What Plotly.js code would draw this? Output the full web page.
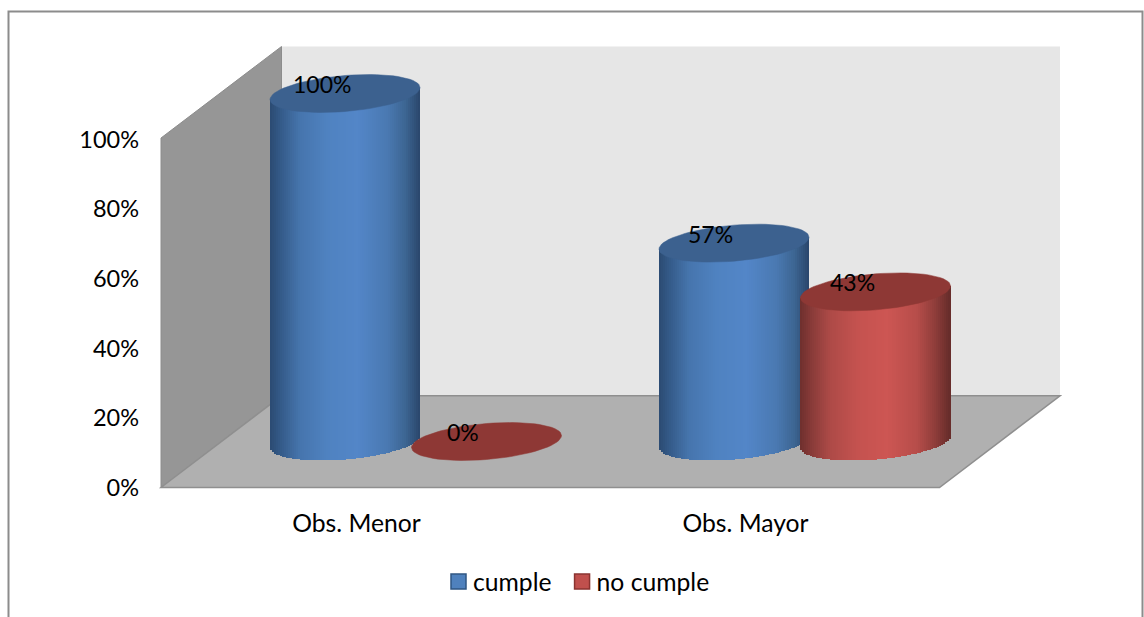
<!DOCTYPE html>
<html><head><meta charset="utf-8">
<script src="https://cdn.plot.ly/plotly-3.0.1.min.js"></script>
<style>html,body{margin:0;padding:0;background:#fff;overflow:hidden}</style>
</head><body><div id="chart" style="width:1144px;height:617px"></div>
<script>
const categories = ["Obs. Menor", "Obs. Mayor"];
const cumple = [100, 57];
const noCumple = [0, 43];
const yTicks = [0, 20, 40, 60, 80, 100];
const yTickLabels = ["0%", "20%", "40%", "60%", "80%", "100%"];

// pixel scale helpers of the pseudo-3D projection
const W = 1144, H = 617;
const PL = 140, PR = 1062, PT = 40, PB = 494;
const Y0 = 487.5;
const pxPerCat = 389, pxPerPct = 3.48;
const x0px = 356.5;
const xRange = [(PL - x0px) / pxPerCat, (PR - x0px) / pxPerCat];
const yRange = [(Y0 - PB) / pxPerPct, (Y0 - PT) / pxPerPct];
const dx = v => v / pxPerCat, dy = v => v / pxPerPct;

const depthX = dx(120.5), depthY = dy(91.7);
const wallTop = dy(Y0 - 46.5), wallFrontTop = dy(Y0 - 138);
const xL = (161 - x0px) / pxPerCat, xF = (939.5 - x0px) / pxPerCat;
const floorShift = dy(46);           // cylinder bases sit this far above the axis
const seriesOffset = [dx(-11.5), dx(130)];   // from category tick to cylinder centre
const rA = 75, rB = 18, rK = 6;      // ellipse half width, half height, tilt (px)

const blueStops = [[0,'#2b4a72'],[0.07,'#345a88'],[0.2,'#4675ad'],[0.38,'#4f82c0'],[0.58,'#5386c8'],[0.78,'#4a79b2'],[0.9,'#3d6693'],[1,'#2a466b']];
const redStops = [[0,'#6e2f2d'],[0.07,'#863a38'],[0.2,'#ad4a47'],[0.38,'#c4524f'],[0.58,'#cd5653'],[0.78,'#b64d4a'],[0.9,'#8f3d3a'],[1,'#652c2a']];
const topColors = ['#3c618f', '#8e3835'];
const swatch = ['#4f81bd', '#c0504d'], swatchEdge = ['#2f5582', '#8a3330'];

function hex(c){return [1,3,5].map(i=>parseInt(c.substr(i,2),16));}
function ramp(stops,t){
  for(let i=1;i<stops.length;i++){
    if(t<=stops[i][0]){
      const f=(t-stops[i-1][0])/(stops[i][0]-stops[i-1][0]);
      const a=hex(stops[i-1][1]),b=hex(stops[i][1]);
      return 'rgb('+a.map((v,k)=>Math.round(v+(b[k]-v)*f)).join(',')+')';
    }
  }
  return stops[stops.length-1][1];
}

const N = 75, slice = 2 * rA / N;
const traces = [];
function cylinder(values, sIdx, stops, name){
  const xs=[],bases=[],hs=[],cols=[],ws=[];
  values.forEach((v,c)=>{
    if(v<=0) return;
    const cx=c+seriesOffset[sIdx];
    for(let i=0;i<N;i++){
      const u=(i+0.5)/N*2-1;
      const low=rB*Math.sqrt(1-u*u);
      const mid=rK*u;
      xs.push(cx+dx(u*rA));
      const b=floorShift+dy(mid-low);
      bases.push(b);
      hs.push(v+dy(low));
      ws.push(dx(slice+0.6));
      cols.push(ramp(stops,(u+1)/2));
    }
  });
  traces.push({type:'bar',x:xs,y:hs,base:bases,width:ws,orientation:'v',showlegend:false,hoverinfo:'skip',
    marker:{color:cols,line:{width:0}},name:name});
}
function caps(values, sIdx){
  values.forEach((v,c)=>{
    const cx=c+seriesOffset[sIdx], xs=[],ys=[];
    for(let i=0;i<=72;i++){
      const t=i/72*2*Math.PI;
      xs.push(cx+dx(rA*Math.cos(t)));
      ys.push(floorShift+v+dy(rB*Math.sin(t)+rK*Math.cos(t)));
    }
    traces.push({type:'scatter',mode:'lines',x:xs,y:ys,fill:'toself',fillcolor:topColors[sIdx],
      line:{color:topColors[sIdx],width:0.5},showlegend:false,hoverinfo:'skip'});
  });
}
cylinder(cumple,0,blueStops,'cumple');
cylinder(noCumple,1,redStops,'no cumple');
caps(cumple,0);
caps(noCumple,1);
['cumple','no cumple'].forEach((n,i)=>traces.push({type:'bar',x:[null],y:[null],name:n,showlegend:true,
  marker:{color:swatch[i],line:{color:swatchEdge[i],width:1.5}}}));

function poly(pts,fill,line,lw){
  return {type:'path',xref:'x',yref:'y',layer:'below',fillcolor:fill,line:{color:line||fill,width:lw||0},
    path:'M'+pts.map(p=>p[0]+','+p[1]).join(' L')+' Z'};
}
const xB = xL + depthX, xBR = xF + depthX;
const shapes = [
  poly([[xB,depthY],[xBR,depthY],[xBR,wallTop],[xB,wallTop]],'#e6e6e6'),
  poly([[xL,0],[xB,depthY],[xB,wallTop],[xL,wallFrontTop]],'#969696','#8c8c8c',1),
  poly([[xL,0],[xB,depthY],[xBR,depthY],[xF,0]],'#b0b0b0','#8f8f8f',1.5),
  {type:'rect',xref:'paper',yref:'paper',layer:'below',line:{color:'#8c8c8c',width:2},fillcolor:'rgba(0,0,0,0)',
   x0:(8.5-PL)/(PR-PL),x1:(1142.5-PL)/(PR-PL),y0:-0.2,y1:(H-11.5)/(H-PT)}
];

const numFont={family:'Lato, "Open Sans", sans-serif',size:23.5,color:'#000'};
const lblFont={family:'Lato, "Open Sans", sans-serif',size:23,color:'#000'};
const txtFont={family:'Lato, "Open Sans", sans-serif',size:24.7,color:'#000'};
const annotations=[];
[[cumple,0],[noCumple,1]].forEach(([vals,s])=>vals.forEach((v,c)=>{
  annotations.push({xref:'x',yref:'y',x:c+seriesOffset[s]+dx(-23.5),y:floorShift+v+dy(9.5),text:v+'%',showarrow:false,font:lblFont,
    xanchor:'center',yanchor:'middle'});
}));

Plotly.newPlot('chart',traces,{
  width:W,height:H,margin:{l:PL,r:W-PR,t:PT,b:0},
  paper_bgcolor:'#fff',plot_bgcolor:'rgba(0,0,0,0)',
  barmode:'overlay',bargap:0,showlegend:true,
  xaxis:{range:xRange,tickvals:[0,1],ticktext:categories,showgrid:false,zeroline:false,showline:false,ticks:'',
    tickfont:txtFont,ticklabelstandoff:12,automargin:false},
  yaxis:{domain:[(H-PB)/(H-PT),1],range:yRange,tickvals:yTicks,ticktext:yTickLabels,showgrid:false,zeroline:false,showline:false,ticks:'',
    tickfont:numFont,automargin:false},
  legend:{orientation:'h',x:(433-PL)/(PR-PL),xanchor:'left',y:(H-559)/(H-PT),yanchor:'top',font:txtFont,traceorder:'normal'},
  shapes,annotations
},{staticPlot:true,displayModeBar:false}).then(gd=>{
  // match the reference's larger legend swatch, sitting closer to its text
  gd.querySelectorAll('.legend .legendpoints path').forEach(p=>{
    p.setAttribute('d','M7.5,7.5H-7.5V-7.5H7.5Z');
    const base=p.getAttribute('transform')||'';
    p.setAttribute('transform',base+' translate(5.5,0)');
  });
});
</script></body></html>
